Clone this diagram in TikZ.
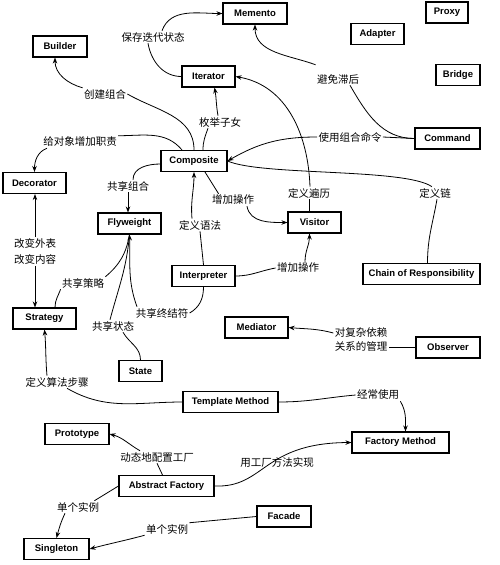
\documentclass[tikz,border=0pt]{standalone}
\usepackage{fontspec}
\setmainfont{Liberation Sans}
\newfontfamily\cjk{Noto Sans CJK SC}
\usetikzlibrary{arrows.meta}

\begin{document}
\begin{tikzpicture}[color = {black}, x=1pt, y=-1pt, line width=0.8pt,
    box/.style={draw, line width=1.1pt, minimum height=21pt, inner sep=0pt, font=\fontsize{9.5}{11}\selectfont\bfseries},
    lbl/.style={inner sep=1pt, align=center, font=\cjk\fontsize{10.5}{16}\selectfont},
    arr/.style={-{Stealth[length=6pt,width=4.5pt]}}]
    \useasboundingbox[fill=white] (0,0) rectangle (500,565);
    \node[box, minimum width=64pt] (memento) at (255,13.5) {Memento};
    \node[box, minimum width=42pt] (proxy) at (447,12.5) {Proxy};
    \node[box, minimum width=53pt] (adapter) at (377.5,34) {Adapter};
    \node[box, minimum width=44pt] (bridge) at (458,75) {Bridge};
    \node[box, minimum width=54pt] (builder) at (60,46.5) {Builder};
    \node[box, minimum width=53pt] (iterator) at (208.5,76.5) {Iterator};
    \node[box, minimum width=65pt] (command) at (447.5,138.5) {Command};
    \node[box, minimum width=66pt] (composite) at (194,161) {Composite};
    \node[box, minimum width=63pt] (decorator) at (34.5,183) {Decorator};
    \node[box, minimum width=63pt] (flyweight) at (129.5,223.5) {Flyweight};
    \node[box, minimum width=53pt] (visitor) at (314.5,222.5) {Visitor};
    \node[box, minimum width=63pt] (interpreter) at (203.5,276) {Interpreter};
    \node[box, minimum width=117pt] (chain) at (421.5,274) {Chain of Responsibility};
    \node[box, minimum width=63pt] (strategy) at (44.5,318.5) {Strategy};
    \node[box, minimum width=63pt] (mediator) at (256.5,327.5) {Mediator};
    \node[box, minimum width=64pt] (observer) at (448,347.5) {Observer};
    \node[box, minimum width=43pt] (state) at (140.5,371) {State};
    \node[box, minimum width=95pt] (template) at (230.5,402) {Template Method};
    \node[box, minimum width=64pt] (prototype) at (77,434) {Prototype};
    \node[box, minimum width=95pt] (abstract) at (166.5,486) {Abstract Factory};
    \node[box, minimum width=97pt] (factory) at (400.5,442.5) {Factory Method};
    \node[box, minimum width=54pt] (facade) at (284,516.5) {Facade};
    \node[box, minimum width=65pt] (singleton) at (56.5,549) {Singleton};

    \node[lbl] (save) at (153,37) {保存迭代状态};
    \node[lbl] (create) at (105,94) {创建组合};
    \node[lbl] (enum) at (220,122) {枚举子女};
    \node[lbl] (duty) at (80,142) {给对象增加职责};
    \node[lbl] (sharecomp) at (128,186) {共享组合};
    \node[lbl] (delay) at (338,79) {避免滞后};
    \node[lbl] (usecmd) at (350,137) {使用组合命令};
    \node[lbl] (traverse) at (309,193) {定义遍历};
    \node[lbl] (chaindef) at (435,193) {定义链};
    \node[lbl] (addop) at (233,200) {增加操作};
    \node[lbl] (grammar) at (200,225) {定义语法};
    \node[lbl] (addop2) at (298,268) {增加操作};
    \node[lbl] (change) at (35,251.5) {改变外表\\改变内容};
    \node[lbl] (sharestrat) at (83,283) {共享策略};
    \node[lbl] (sharestate) at (113,326) {共享状态};
    \node[lbl] (shareterm) at (162,313) {共享终结符};
    \node[lbl, font=\cjk\fontsize{10.5}{14}\selectfont] (depend) at (361,340) {对复杂依赖\\关系的管理};
    \node[lbl] (steps) at (57,382) {定义算法步骤};
    \node[lbl] (often) at (378,395) {经常使用};
    \node[lbl] (config) at (157,457) {动态地配置工厂};
    \node[lbl] (impl) at (277,462) {用工厂方法实现};
    \node[lbl] (single) at (78,507) {单个实例};
    \node[lbl] (single2) at (167,529) {单个实例};

    \draw (iterator.west) to[out=180,in=-80] ([xshift=-5pt]save.south);
    \draw[arr] ([xshift=9pt]save.north) to[out=70,in=180] (memento.west);
    \draw (composite.north) to[out=90,in=-30] (create.east);
    \draw[arr] (create.north west) to[out=165,in=-90] ([xshift=-5pt]builder.south);
    \draw ([xshift=9pt]composite.north) to[out=90,in=-110] ([xshift=-12pt]enum.south);
    \draw[arr] ([xshift=-2pt]enum.north) to[out=100,in=-80] ([xshift=6pt]iterator.south);
    \draw ([xshift=-12pt]composite.north) to[out=130,in=0] (duty.north east);
    \draw[arr] ([xshift=-33pt]duty.south) to[out=200,in=90] (decorator.north);
    \draw ([yshift=-3pt]composite.west) to[out=180,in=90] ([xshift=5pt]sharecomp.north);
    \draw[arr] (sharecomp.south) -- (sharecomp.south |- flyweight.north);
    \draw[arr] ([yshift=8pt]delay.north west) to[out=160,in=-90] (memento.south);
    \draw (command.west) to[out=180,in=-60] ([xshift=12pt]delay.south);
    \draw (command.west) -- (usecmd.east);
    \draw[arr] (usecmd.west) to[out=180,in=30] (composite.east);
    \draw ([xshift=-3pt]chaindef.north) .. controls (405,168) and (262,176) .. (composite.east);
    \draw ([xshift=6pt]chain.north) to[out=90,in=-100] ([xshift=2pt]chaindef.south);
    \draw (traverse.south) -- (traverse.south |- visitor.north);
    \draw[arr] ([xshift=1pt]traverse.north) to[out=92,in=-10] (iterator.east);
    \draw ([xshift=11pt]composite.south) -- ([xshift=8pt]addop.north west);
    \draw[arr] ([xshift=14pt]addop.south) to[out=-80,in=180] (visitor.west);
    \draw[arr] ([xshift=-8pt]grammar.north) to[out=95,in=-90] (composite.south);
    \draw (grammar.south) -- (interpreter.north);
    \draw (interpreter.east) to[out=0,in=190] (addop2.west);
    \draw[arr] ([xshift=7pt]addop2.north) to[out=90,in=-90] ([xshift=-5pt]visitor.south);
    \draw (interpreter.south) to[out=-90,in=30] (shareterm.east);
    \draw[arr] ([xshift=-25pt]shareterm.north) to[out=110,in=-88] (flyweight.south);
    \draw ([xshift=10.5pt]strategy.north) to[out=90,in=-110] (sharestrat.south west);
    \draw (sharestrat.north east) to[out=40,in=-100] (flyweight.south);
    \draw (state.north) to[out=90,in=-60] ([xshift=10pt]sharestate.south);
    \draw ([xshift=-3pt]sharestate.north) to[out=75,in=-95] (flyweight.south);
    \draw[arr] (change.north) -- (change.north |- decorator.south);
    \draw[arr] (change.south) -- (change.south |- strategy.north);
    \draw[arr] ([xshift=-10pt]steps.north) to[out=95,in=-85] (strategy.south);
    \draw ([xshift=10pt]steps.south) to[out=-30,in=180] (template.west);
    \draw (template.east) to[out=0,in=185] (often.west);
    \draw[arr] (often.south east) to[out=-60,in=90] ([xshift=5pt]factory.north);
    \draw[arr] (abstract.east) .. controls (265,488) and (262,443) .. (factory.west);
    \draw ([xshift=-4pt]abstract.north) -- (config.south);
    \draw[arr] ([xshift=-17pt]config.north) to[out=150,in=-15] (prototype.east);
    \draw (abstract.west) -- ([xshift=-6pt]single.north east);
    \draw[arr] ([xshift=-13pt]single.south) to[out=-115,in=75] (singleton.north);
    \draw (facade.west) -- (single2.north east);
    \draw[arr] (single2.south west) to[out=195,in=15] (singleton.east);
    \draw (observer.west) -- (observer.west -| depend.east);
    \draw[arr] ([yshift=7pt]depend.west) to[out=165,in=-5] (mediator.east);
\end{tikzpicture}
\end{document}
